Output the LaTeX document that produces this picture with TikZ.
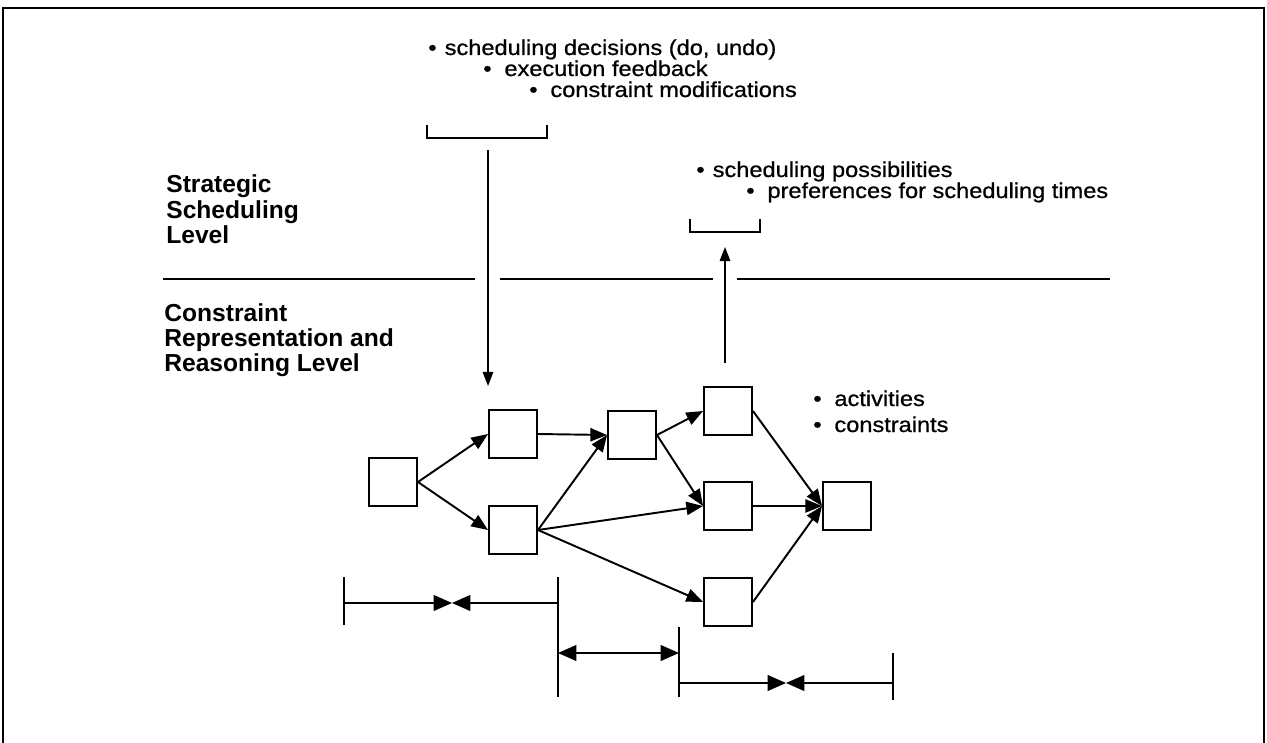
\documentclass[tikz,border=0pt]{standalone}
\usepackage{fontspec}
\setmainfont{Liberation Sans}
\newfontfamily\widesans[FakeStretch=1.1, FakeBold=0.8]{Liberation Sans}
\usetikzlibrary{positioning, arrows.meta}

\newcommand{\itemfont}{\widesans\fontsize{12.2}{15}\selectfont}
\newcommand{\levelfont}{\fontsize{14}{17}\selectfont\bfseries}

\tikzset{
  box/.style={draw, line width=1.1pt, minimum width=0.96cm, minimum height=0.96cm, inner sep=0pt},
  flow/.style={line width=1.1pt, -{Triangle[length=9.5pt,width=7.5pt]}},
  itemtext/.style={anchor=base west, inner sep=0pt, font=\itemfont},
  levelname/.style={anchor=base west, inner sep=0pt, font=\levelfont},
  bartick/.style={line width=0.9pt},
  interval/.style={line width=1pt, -{Triangle[length=10.5pt,width=9pt]}},
  passdown/.style={line width=0.8pt, -{Triangle[length=8pt,width=6pt]}},
}

\begin{document}
\begin{tikzpicture}[x=0.02cm, y=-0.02cm]
    \useasboundingbox (0,0) rectangle (1267,743);
    % frame, open at the bottom
    \draw[line width=1.2pt] (3,743) -- (3,8) -- (1264,8) -- (1264,743);

    % level names
    \node[levelname] (strat1) at (166,193) {Strategic};
    \node[levelname] (strat2) at (166,218) {Scheduling};
    \node[levelname] (strat3) at (166,243) {Level};
    \node[levelname] (cons1) at (164,321) {Constraint};
    \node[levelname] (cons2) at (164,346) {Representation and};
    \node[levelname] (cons3) at (164,371) {Reasoning Level};

    % divider between the levels
    \draw[line width=0.6pt] (163,279) -- (475,279);
    \draw[line width=0.6pt] (500,279) -- (713,279);
    \draw[line width=0.6pt] (737,279) -- (1110,279);

    % what goes down
    \node[itemtext] (decide) at (428,55) {\textbullet\hspace{0.38em}scheduling decisions (do, undo)};
    \node[itemtext] (feedback) at (483,76) {\textbullet\hspace{0.6em}execution feedback};
    \node[itemtext] (modify) at (529,97) {\textbullet\hspace{0.6em}constraint modifications};
    \draw[line width=0.8pt] (427,125) -- (427,138) -- (547,138) -- (547,125);
    \coordinate (downtop) at (488,150);
    \coordinate (downend) at (488,386);
    \draw[passdown] (downtop) -- (downend);

    % what goes up
    \node[itemtext] (possible) at (696,177) {\textbullet\hspace{0.38em}scheduling possibilities};
    \node[itemtext] (prefer) at (746,198) {\textbullet\hspace{0.6em}preferences for scheduling times};
    \draw[line width=0.8pt] (690,219) -- (690,232) -- (760,232) -- (760,219);
    \coordinate (uptop) at (725,247);
    \coordinate (upbase) at (725,363);
    \draw[passdown] (upbase) -- (uptop);

    % network of activities
    \node[box] (actA) at (393,482) {};
    \node[box] (actB) at (513,434) {};
    \node[box] (actC) at (513,530) {};
    \node[box] (actD) at (632,435) {};
    \node[box] (actE) at (728,411) {};
    \node[box] (actF) at (728,506) {};
    \node[box] (actG) at (728,602) {};
    \node[box] (actH) at (847,506) {};
    \draw[flow] (actA.east) -- (actB.west);
    \draw[flow] (actA.east) -- (actC.west);
    \draw[flow] (actB.east) -- (actD.west);
    \draw[flow] (actC.east) -- (actD.west);
    \draw[flow] (actD.east) -- (actE.west);
    \draw[flow] (actD.east) -- (actF.west);
    \draw[flow] (actC.east) -- (actF.west);
    \draw[flow] (actC.east) -- (actG.west);
    \draw[flow] (actE.east) -- (actH.west);
    \draw[flow] (actF.east) -- (actH.west);
    \draw[flow] (actG.east) -- (actH.west);

    \node[itemtext] (activities) at (813,406) {\textbullet\hspace{0.6em}activities};
    \node[itemtext] (constraints) at (813,432) {\textbullet\hspace{0.6em}constraints};

    % time bounds
    \draw[bartick] (344,577) -- (344,625);
    \draw[bartick] (558,577) -- (558,697);
    \draw[bartick] (679,627) -- (679,697);
    \draw[bartick] (893,653) -- (893,700);
    \coordinate (lowA) at (344,603);
    \coordinate (midA) at (452,603);
    \coordinate (highA) at (558,603);
    \draw[interval] (lowA) -- (midA);
    \draw[interval] (highA) -- (midA);
    \coordinate (lowB) at (558,653);
    \coordinate (highB) at (679,653);
    \draw[line width=1pt, {Triangle[length=10.5pt,width=9pt]}-{Triangle[length=10.5pt,width=9pt]}] (lowB) -- (highB);
    \coordinate (lowC) at (679,683);
    \coordinate (midC) at (786,683);
    \coordinate (highC) at (893,683);
    \draw[interval] (lowC) -- (midC);
    \draw[interval] (highC) -- (midC);
\end{tikzpicture}
\end{document}
